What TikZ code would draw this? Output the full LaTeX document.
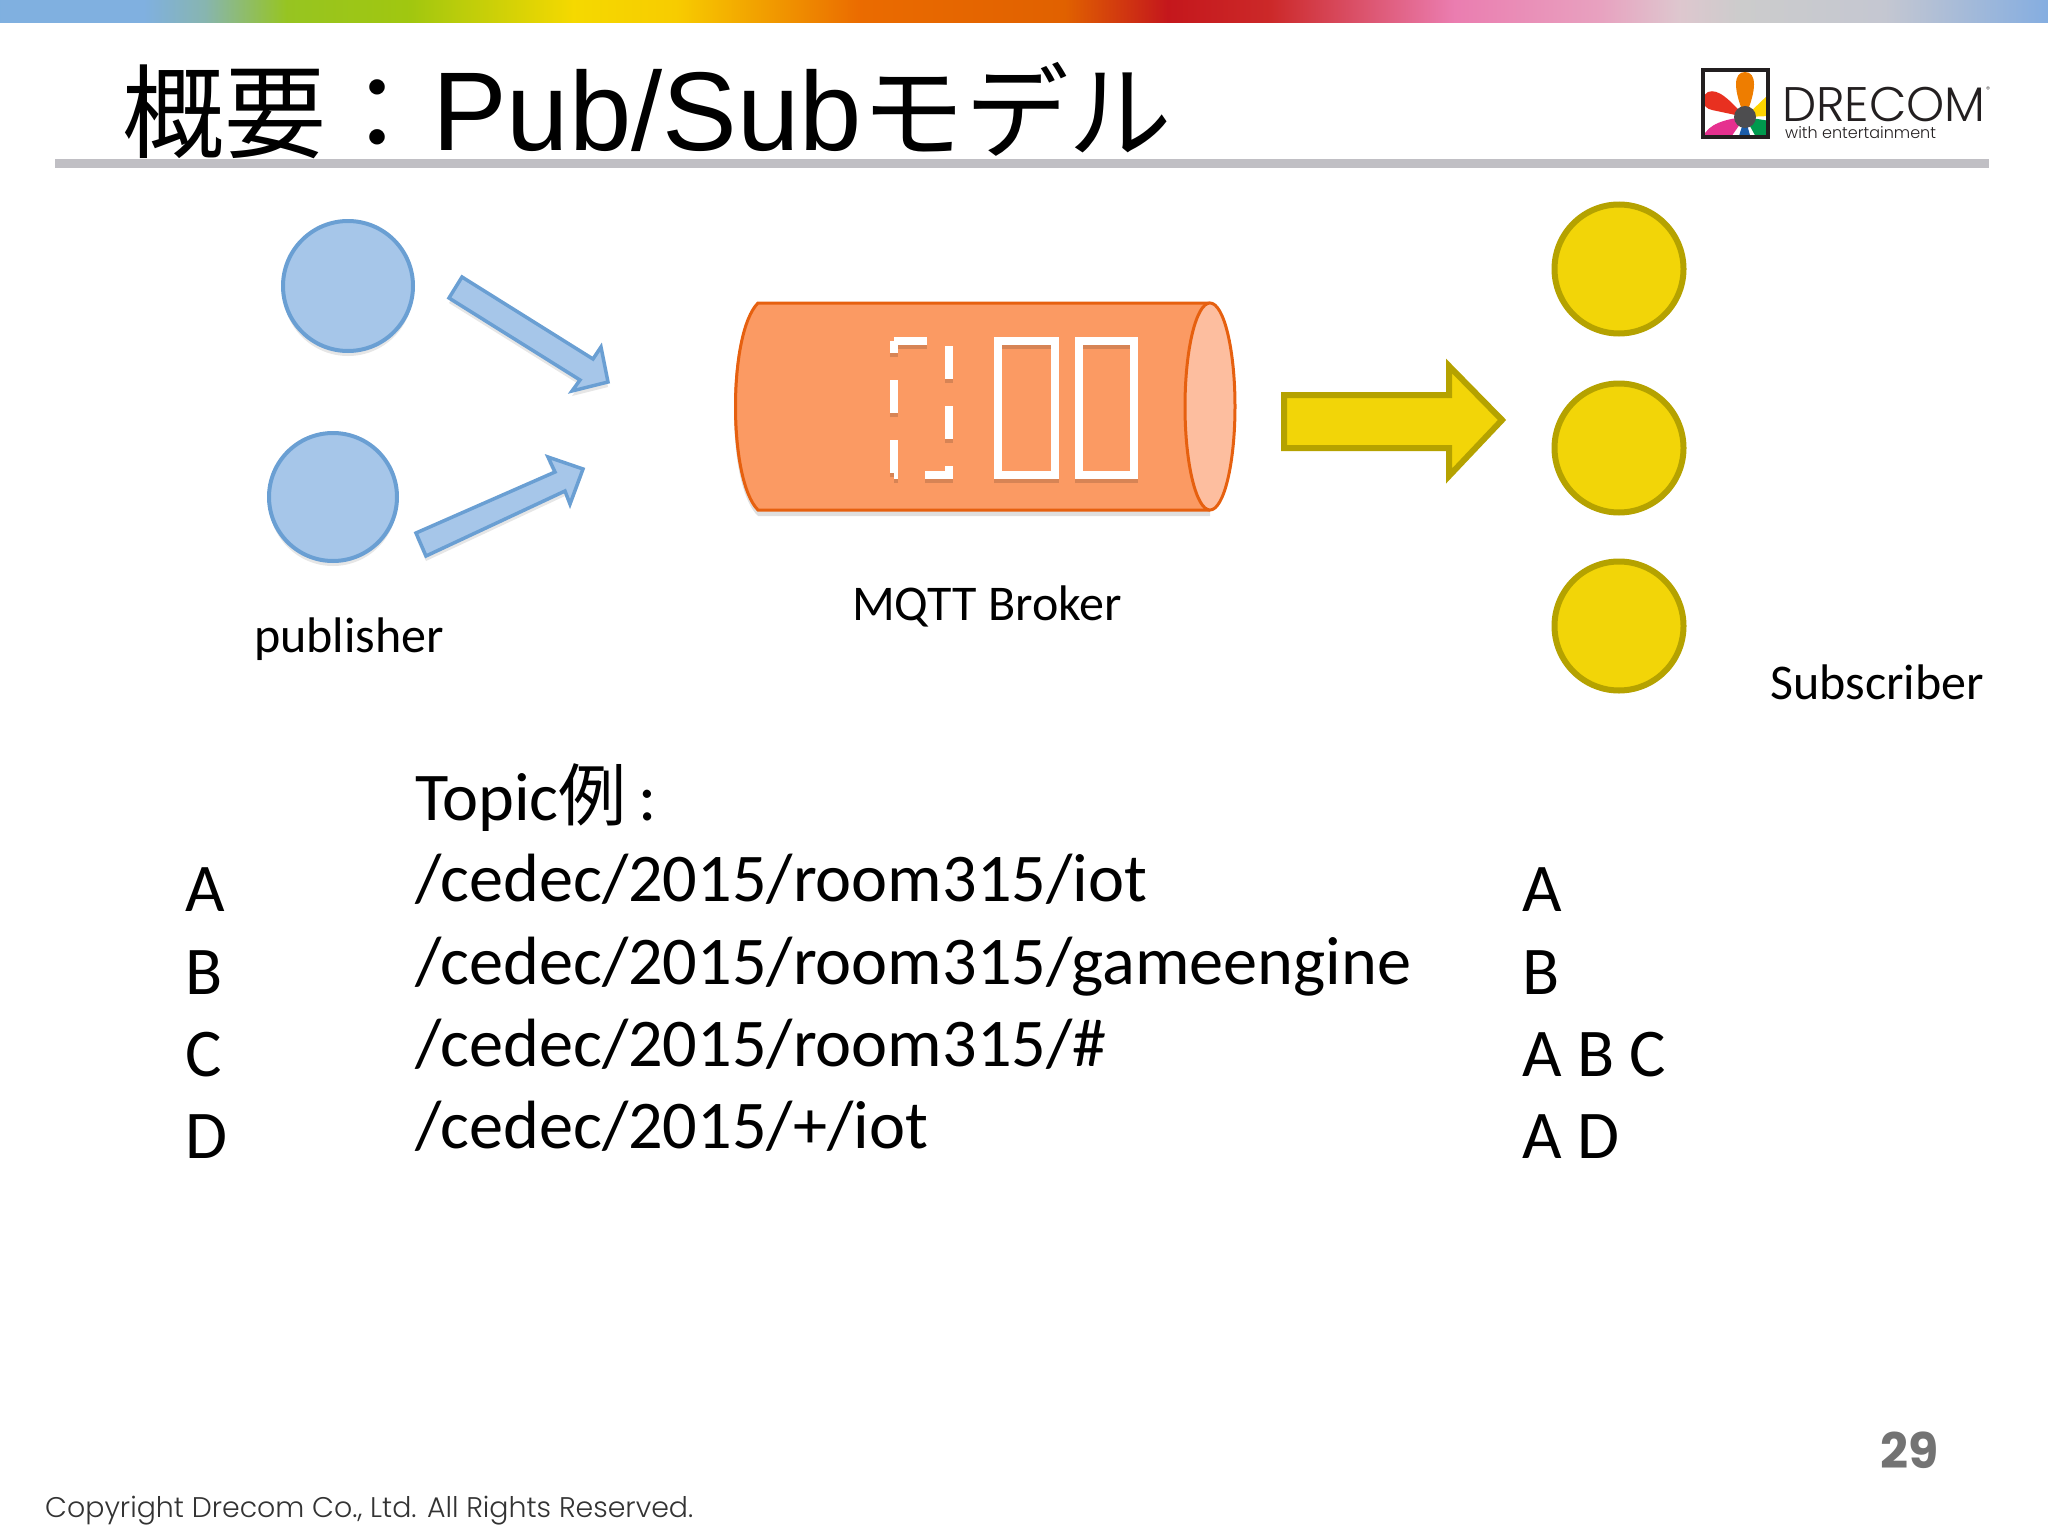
\documentclass[tikz,border=0pt]{standalone}
\usepackage{fontspec}
\setmainfont{Carlito}
\newfontfamily\cjkfont{Noto Sans CJK JP}
\newfontfamily\titlefont{Liberation Sans}
\newfontfamily\logofont{Poppins}
\newfontfamily\logothin{Poppins Light}
\usetikzlibrary{shadows}

\definecolor{bluefill}{HTML}{A6C6E9}
\definecolor{blueline}{HTML}{6A9FD3}
\definecolor{yellowfill}{HTML}{F2D508}
\definecolor{yellowline}{HTML}{B5A200}
\definecolor{orangefill}{HTML}{FB9A63}
\definecolor{orangecap}{HTML}{FDBE9F}
\definecolor{orangeline}{HTML}{E6600F}
\definecolor{ruleline}{HTML}{C0BFC4}
\definecolor{logoink}{HTML}{231F20}
\definecolor{petalorange}{HTML}{EE7D00}
\definecolor{petalred}{HTML}{E83020}
\definecolor{petalyellow}{HTML}{FFD400}
\definecolor{petalgreen}{HTML}{009A4E}
\definecolor{petalblue}{HTML}{1B5CA8}
\definecolor{petalpink}{HTML}{E6308F}
\definecolor{petalcore}{HTML}{4D4D4F}

\pgfdeclarehorizontalshading{topstripe}{100bp}{
  rgb(0bp)=(0.50,0.69,0.88); rgb(28.5bp)=(0.50,0.69,0.88); rgb(30bp)=(0.53,0.71,0.69);
  rgb(32bp)=(0.59,0.77,0.13); rgb(35bp)=(0.63,0.78,0.06); rgb(39bp)=(0.96,0.85,0);
  rgb(41.5bp)=(0.97,0.80,0); rgb(46bp)=(0.92,0.42,0); rgb(51bp)=(0.88,0.38,0);
  rgb(53.5bp)=(0.77,0.09,0.11); rgb(56bp)=(0.80,0.16,0.16); rgb(60.5bp)=(0.92,0.49,0.69);
  rgb(64bp)=(0.91,0.63,0.75); rgb(66bp)=(0.87,0.78,0.81); rgb(67.5bp)=(0.80,0.80,0.80);
  rgb(71bp)=(0.77,0.78,0.82); rgb(75bp)=(0.52,0.68,0.88); rgb(100bp)=(0.52,0.68,0.88)}

\tikzset{
  softshadow/.style={drop shadow={shadow xshift=0pt, shadow yshift=-5pt, opacity=0.2}},
  pubcircle/.style={circle, draw=blueline, line width=4pt, fill=bluefill, minimum size=130pt, inner sep=0pt, softshadow},
  subcircle/.style={circle, draw=yellowline, line width=6pt, fill=yellowfill, minimum size=129pt, inner sep=0pt},
  pubarrow/.style={draw=blueline, line width=3.5pt, fill=bluefill, line join=miter, softshadow},
  slotbox/.style={draw=white, line width=8.5pt},
  slotshade/.style={draw=black, opacity=0.14, line width=8.5pt, yshift=-4pt},
  caption/.style={font=\fontsize{50}{60}\selectfont, inner sep=0pt},
  bodytext/.style={font=\fontsize{68.3}{82}\selectfont, inner sep=0pt, anchor=base west}
}

\begin{document}
\begin{tikzpicture}[x=1pt, y=-1pt]
    \useasboundingbox (0, 0) rectangle (2048, 1536);
    \shade[shading=topstripe] (0, 0) rectangle (2048, 23);

    % title
    \fill[ruleline] (55, 159) rectangle (1989, 168);
    \node[anchor=base west, inner sep=0pt] (title) at (122, 150)
        {\cjkfont\fontsize{102}{120}\selectfont 概要：\hspace{4pt}\titlefont\fontsize{112}{120}\selectfont Pub/Sub\cjkfont\fontsize{103.5}{120}\selectfont モデル};

    % logo
    \begin{scope}
        \clip (1703, 70) rectangle (1768, 137);
        \fill[petalorange] (1745, 117) .. controls (1733, 90) and (1733, 72) .. (1745, 72) .. controls (1757, 72) and (1757, 90) .. (1745, 117);
        \fill[petalred] (1745, 117) .. controls (1730, 100) and (1718, 88) .. (1708, 92) .. controls (1700, 97) and (1702, 108) .. (1712, 110) -- cycle;
        \fill[petalyellow] (1745, 117) -- (1770, 93) -- (1770, 116) -- cycle;
        \fill[petalgreen] (1745, 117) -- (1770, 121) -- (1770, 139) -- (1757, 139) -- cycle;
        \fill[petalblue] (1745, 117) -- (1738, 139) -- (1751, 139) -- cycle;
        \fill[petalpink] (1745, 117) .. controls (1725, 119) and (1708, 124) .. (1703, 137) -- (1731, 137) -- cycle;
        \fill[petalcore] (1745, 117) circle (11);
    \end{scope}
    \draw[logoink, line width=4pt] (1703, 70) rectangle (1768, 137);
    \node[anchor=base west, inner sep=0pt, text depth=0pt, text=logoink, font=\logothin\fontsize{48.5}{50}\selectfont] (logotext) at (1782, 122) {DRECOM};
    \node[inner sep=0pt, text=logoink, font=\logothin\fontsize{8}{8}\selectfont] (logomark) at (1988, 90) {®};
    \node[anchor=base west, inner sep=0pt, text=logoink, font=\logothin\fontsize{16}{18}\selectfont] (logosub) at (1785, 139) {with entertainment};

    % publishers
    \node[pubcircle] (pub1) at (348, 286) {};
    \node[pubcircle, minimum size=128pt] (pub2) at (333, 497) {};
    \draw[pubarrow] (462, 277) -- (593, 359) -- (601, 347) -- (608, 382) -- (572, 391) -- (580, 380) -- (449, 298) -- cycle;
    \draw[pubarrow] (416, 533) -- (555, 472) -- (548, 457) -- (583, 469) -- (570, 504) -- (565, 491) -- (426, 556) -- cycle;
    \node[caption] (publisher) at (349, 639) {publisher};

    % broker
    \path[fill=orangefill, drop shadow={shadow xshift=0pt, shadow yshift=-6pt, opacity=0.25}]
        (758, 303) -- (1210, 303) -- (1210, 510) -- (758, 510) .. controls (726, 480) and (726, 333) .. (758, 303) -- cycle;
    \draw[orangeline, line width=3pt, fill=orangefill]
        (1210, 303) -- (758, 303) .. controls (728, 333) and (728, 480) .. (758, 510) -- (1210, 510);
    \draw[orangeline, line width=3pt, fill=orangecap] (1210, 406.5) ellipse (25 and 103.5);
    \draw[slotshade, dash pattern=on 33pt off 27pt] (894, 341) -- (949, 341) -- (949, 475) -- (894, 475);
    \draw[slotshade, dash pattern=on 33pt off 27pt] (894, 473) -- (894, 341);
    \draw[slotshade] (998, 341) rectangle (1055, 475);
    \draw[slotshade] (1079, 341) rectangle (1134, 475);
    \draw[slotbox, dash pattern=on 33pt off 27pt] (894, 341) -- (949, 341) -- (949, 475) -- (894, 475);
    \draw[slotbox, dash pattern=on 33pt off 27pt] (894, 473) -- (894, 341);
    \draw[slotbox] (998, 341) rectangle (1055, 475);
    \draw[slotbox] (1079, 341) rectangle (1134, 475);
    \node[caption] (broker) at (987, 606) {MQTT Broker};

    % subscribers
    \draw[yellowline, line width=6pt, fill=yellowfill, line join=miter] (1284, 395) -- (1449, 395) -- (1449, 366) -- (1502, 420) -- (1449, 476) -- (1449, 448) -- (1284, 448) -- cycle;
    \node[subcircle] (sub1) at (1619, 269) {};
    \node[subcircle] (sub2) at (1619, 448) {};
    \node[subcircle] (sub3) at (1619, 626) {};
    \node[caption] (subscriber) at (1877, 682) {Subscriber};

    % topics
    \node[bodytext] (topichead) at (415, 820) {Topic{\cjkfont\fontsize{68}{68}\selectfont 例}\,:};
    \node[bodytext] (topica) at (415, 901) {/cedec/2015/room315/iot};
    \node[bodytext] (topicb) at (415, 984) {/cedec/2015/room315/gameengine};
    \node[bodytext] (topicc) at (415, 1066) {/cedec/2015/room315/\#};
    \node[bodytext] (topicd) at (415, 1148) {/cedec/2015/+/iot};

    \node[bodytext] (namea) at (185, 911) {A};
    \node[bodytext] (nameb) at (185, 994) {B};
    \node[bodytext] (namec) at (185, 1076) {C};
    \node[bodytext] (named) at (185, 1158) {D};

    \node[bodytext] (geta) at (1522, 911) {A};
    \node[bodytext] (getb) at (1522, 994) {B};
    \node[bodytext] (getc) at (1522, 1076) {A B C};
    \node[bodytext] (getd) at (1522, 1158) {A D};

    % footer
    \node[anchor=base west, inner sep=0pt, text=black!80, font=\logothin\fontsize{28.4}{29}\selectfont] (copyright) at (45, 1517) {Copyright Drecom Co., Ltd. All Rights Reserved.};
    \node[inner sep=0pt, text=black!55, font=\logofont\bfseries\fontsize{49}{50}\selectfont] (pagenum) at (1910, 1450) {29};
\end{tikzpicture}
\end{document}
